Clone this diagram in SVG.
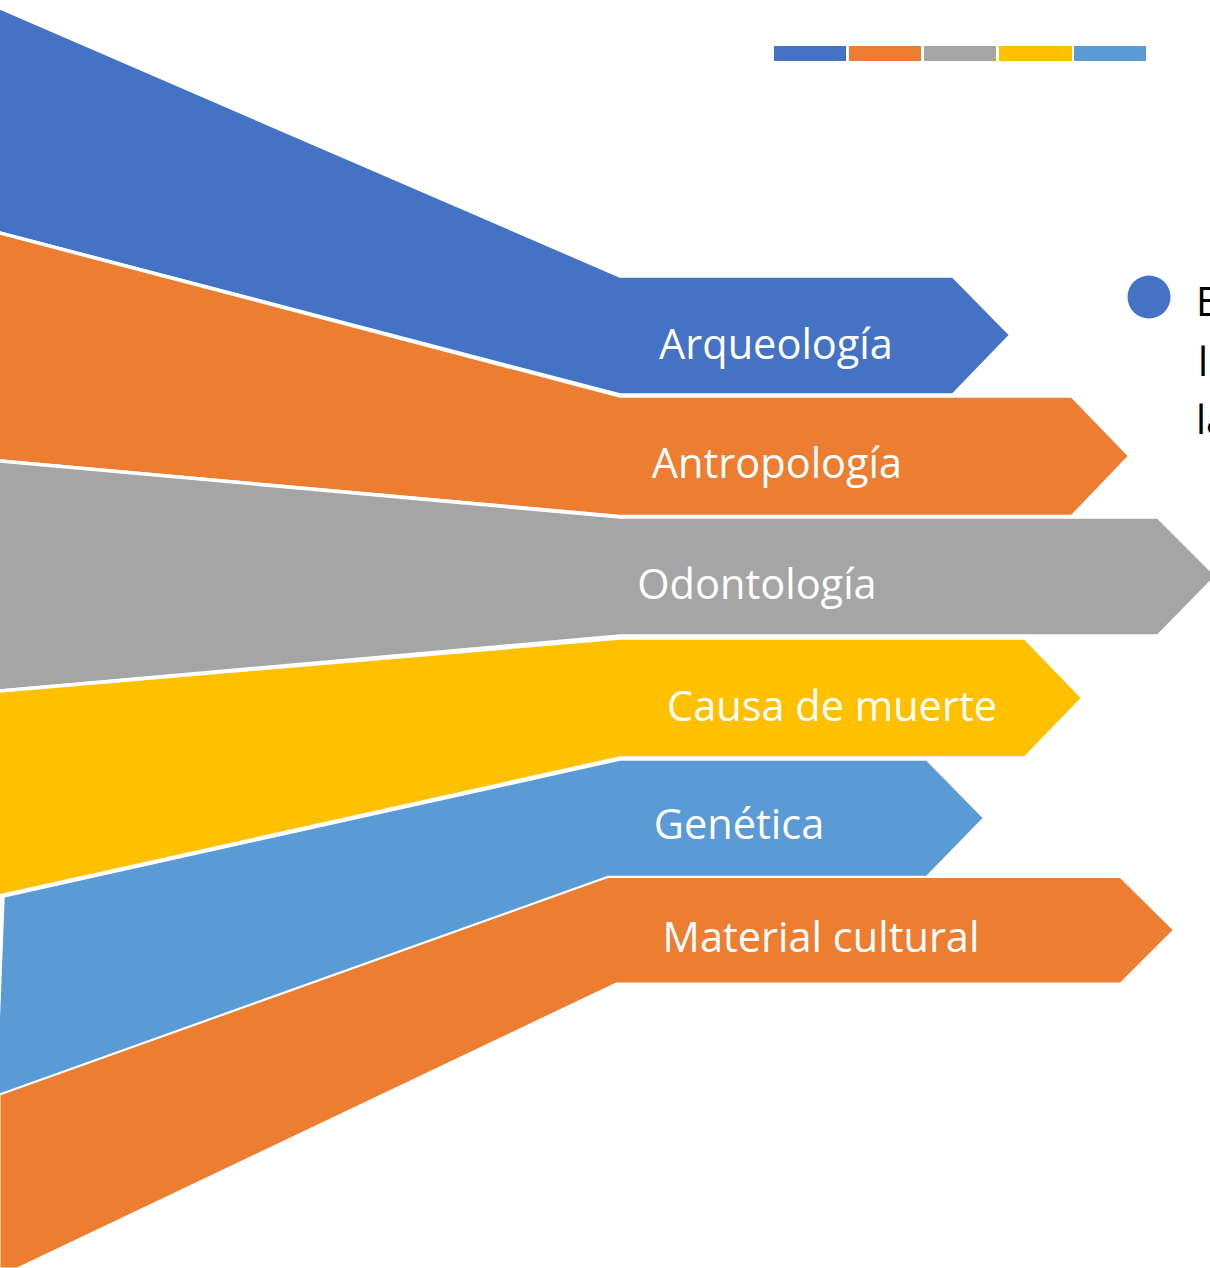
<svg xmlns="http://www.w3.org/2000/svg" width="1210" height="1268" viewBox="0 0 1210 1268">
<style>
.s{stroke:#FFFFFF;stroke-width:3.5;stroke-linejoin:miter}
.b{fill:#4472C4}.o{fill:#ED7D31}.g{fill:#A5A5A5}.y{fill:#FFC000}.lb{fill:#5B9BD5}
.t{font-family:"Open Sans","Liberation Sans",sans-serif;font-size:41.5px;fill:#FFFFFF;text-anchor:middle}
.r{font-family:"Open Sans","Liberation Sans",sans-serif;font-size:40px;fill:#000000}
</style>
<rect width="1210" height="1268" fill="#FFFFFF"/>
<g id="legend">
<rect class="b" x="774" y="46" width="72" height="15"/>
<rect class="o" x="849" y="46" width="72" height="15"/>
<rect class="g" x="924" y="46" width="72" height="15"/>
<rect class="y" x="999" y="46" width="73" height="15"/>
<rect class="lb" x="1074" y="46" width="72" height="15"/>
</g>
<g id="arqueologia">
<polygon class="b s" points="-5,5.8 620,276 953,276 1011,335 953,395 620,395 -5,231.7"/>
<text class="t" x="776" y="359">Arqueología</text>
</g>
<g id="antropologia">
<polygon class="o s" points="-5,231.7 620,396 1072,396 1130,456 1072,516.5 620,516.5 -5,460.5"/>
<text class="t" x="777" y="478">Antropología</text>
</g>
<g id="odontologia">
<polygon class="g s" points="-5,460.5 620,517 1158,517 1217,576 1158,636 620,636 -5,691.4"/>
<text class="t" x="757" y="599">Odontología</text>
</g>
<g id="causa">
<polygon class="y s" points="-5,691.4 620,638 1025,638 1083,698 1025,758 620,758 -5,897"/>
<text class="t" x="832" y="721">Causa de muerte</text>
</g>
<g id="genetica">
<polygon class="lb s" points="3,896 620,759 927,759 985,818 927,877.5 608,877.5 -5,1096.8 -1,1000"/>
<text class="t" x="739" y="839">Genética</text>
</g>
<g id="material">
<polygon class="o" stroke="#FFFFFF" stroke-width="1" points="-5,1096.8 608,877.5 1120,877.5 1173,930 1120,983 616,983 17,1268 0,1268 0,1095"/>
<text class="t" x="821" y="952">Material cultural</text>
</g>
<g id="bullet-text">
<circle cx="1149" cy="297" r="21.5" fill="#4472C4"/>
<text class="r" x="1196" y="316">E</text>
<text class="r" x="1198" y="376">l</text>
<text class="r" x="1196" y="434">la</text>
</g>
</svg>
